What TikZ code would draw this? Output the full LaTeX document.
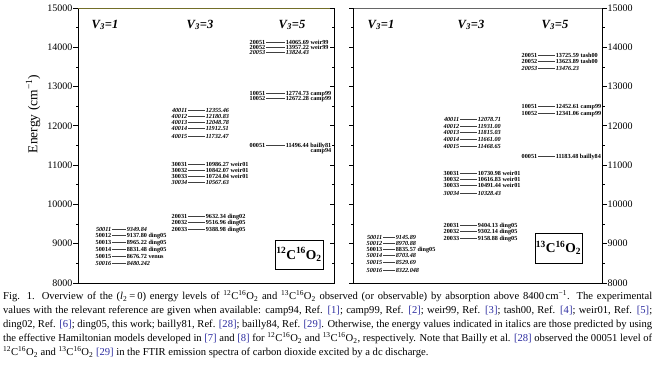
\documentclass[tikz,border=0pt]{standalone}
\usepackage{fontspec}
\setmainfont{Liberation Serif}
\newcommand\isoCO[2]{\textsuperscript{#1}C\textsuperscript{#2}O\textsubscript{2}}
\newcommand\rf[1]{\textcolor{refc}{[#1]}}
\definecolor{refc}{RGB}{45,45,160}
\definecolor{olivec}{RGB}{115,110,40}
\newcommand\enlev[7][lvb]{%
  \node[#1,anchor=east] (#2l) at (#3,#5) {#6};
  \node[#1,anchor=west] (#2v) at (#4,#5) {#7};
  \draw[lvline] (#2l.east) -- (#2v.west);}
\tikzset{
  lvb/.style={font=\fontsize{6.2}{6}\selectfont\bfseries, inner xsep=0.6pt, inner ysep=0.2pt, text height=4.2pt, text depth=0pt},
  lvi/.style={font=\fontsize{6.2}{6}\selectfont\bfseries\itshape, inner xsep=0.6pt, inner ysep=0.2pt, text height=4.2pt, text depth=0pt},
  lvline/.style={line width=0.45pt, black!75},
  axisl/.style={line width=0.8pt, black},
  ticklab/.style={font=\fontsize{10}{12}\selectfont, inner sep=0pt},
  hdr/.style={font=\fontsize{12.5}{14}\selectfont\bfseries\itshape, inner sep=0pt},
  molbox/.style={draw, line width=0.7pt, font=\fontsize{13.5}{15}\selectfont\bfseries, inner sep=0pt},
  capline/.style={anchor=base west, inner sep=0pt, font=\fontsize{10.6}{12}\selectfont}
}
\begin{document}
\begin{tikzpicture}[x=1pt,y=-1pt]
\useasboundingbox (0,0) rectangle (655,365);
% frames
\draw[axisl] (78,283) -- (78,8);
\draw[axisl,olivec] (78,8) -- (334,8);
\draw[axisl] (334,8) -- (334,283) -- (78,283);
\draw[axisl,black!60] (353,8) -- (602,8);
\draw[axisl] (353,8) -- (353,283) -- (602,283) -- (602,8);
% ticks
\foreach \e in {8000,9000,...,15000}{
  \pgfmathsetmacro\yy{283-(\e-8000)*0.0392857}
  \draw[axisl] (78,\yy) -- (73,\yy);
  \node[ticklab,anchor=east] (tl\e) at (72.5,\yy) {\e};
  \draw[axisl] (334,\yy) -- (330,\yy);
  \draw[axisl] (353,\yy) -- (349,\yy);
  \draw[axisl] (602,\yy) -- (607,\yy);
  \node[ticklab,anchor=west] (tr\e) at (607.5,\yy) {\e};
}
\foreach \e in {8500,9500,...,14500}{
  \pgfmathsetmacro\yy{283-(\e-8000)*0.0392857}
  \draw[axisl] (78,\yy) -- (75.5,\yy);
  \draw[axisl] (334,\yy) -- (331.5,\yy);
  \draw[axisl] (353,\yy) -- (350.5,\yy);
  \draw[axisl] (602,\yy) -- (604.5,\yy);
}
\node[rotate=90, font=\fontsize{13.5}{16}\selectfont, inner sep=0pt] (elab) at (33,114) {Energy (cm\textsuperscript{−1})};
% headers
\node[hdr] (h1) at (105,25) {V\textsubscript{3}=1};
\node[hdr] (h2) at (200,25) {V\textsubscript{3}=3};
\node[hdr] (h3) at (292,25) {V\textsubscript{3}=5};
\node[hdr] (h4) at (381,25) {V\textsubscript{3}=1};
\node[hdr] (h5) at (471,25) {V\textsubscript{3}=3};
\node[hdr] (h6) at (555,25) {V\textsubscript{3}=5};
% left V3=1
\enlev[lvi]{La}{112}{126}{229.3}{50011}{9349.84}
\enlev{Lb}{112}{126}{235.7}{50012}{9137.80 ding05}
\enlev{Lc}{112}{126}{242.7}{50013}{8965.22 ding05}
\enlev{Ld}{112}{126}{249.7}{50014}{8831.48 ding05}
\enlev{Le}{112}{126}{256.7}{50015}{8676.72 venus}
\enlev[lvi]{Lf}{112}{126}{263.3}{50016}{8480.242}
% left V3=3
\enlev[lvi]{Lg}{188}{205}{110}{40011}{12355.46}
\enlev[lvi]{Lh}{188}{205}{116}{40012}{12180.83}
\enlev[lvi]{Li}{188}{205}{122}{40013}{12048.78}
\enlev[lvi]{Lj}{188}{205}{128}{40014}{11912.51}
\enlev[lvi]{Lk}{188}{205}{136.7}{40015}{11732.47}
\enlev{Ll}{188}{205}{164}{30031}{10986.27 weir01}
\enlev{Lm}{188}{205}{170}{30032}{10842.07 weir01}
\enlev{Ln}{188}{205}{176.7}{30033}{10724.04 weir01}
\enlev[lvi]{Lo}{188}{205}{182.7}{30034}{10567.63}
\enlev{Lp}{188}{205}{216.7}{20031}{9632.34 ding02}
\enlev{Lq}{188}{205}{222.3}{20032}{9516.96 ding05}
\enlev{Lr}{188}{205}{229.3}{20033}{9388.98 ding05}
% left V3=5
\enlev{Ls}{266}{285}{42}{20051}{14065.69 weir99}
\enlev{Lt}{266}{285}{47}{20052}{13957.22 weir99}
\enlev[lvi]{Lu}{266}{285}{52}{20053}{13824.43}
\enlev{Lv}{266}{285}{93.3}{10051}{12774.73 camp99}
\enlev{Lw}{266}{285}{98.7}{10052}{12672.28 camp99}
\enlev{Lx}{266}{285}{145.7}{00051}{11496.44 bailly81}
\node[lvb,anchor=north east] (Lxc) at (Lxv.south east) {camp94};
% right V3=1
\enlev[lvi]{Ra}{383}{395}{237.3}{50011}{9145.89}
\enlev[lvi]{Rb}{383}{395}{243.3}{50012}{8970.88}
\enlev{Rc}{383}{395}{249.3}{50013}{8835.57 ding05}
\enlev[lvi]{Rd}{383}{395}{255.7}{50014}{8703.48}
\enlev[lvi]{Re}{383}{395}{262}{50015}{8529.69}
\enlev[lvi]{Rf}{383}{395}{270.7}{50016}{8322.048}
% right V3=3
\enlev[lvi]{Rg}{460}{477}{119.3}{40011}{12078.71}
\enlev[lvi]{Rh}{460}{477}{126}{40012}{11931.00}
\enlev[lvi]{Ri}{460}{477}{132.3}{40013}{11815.03}
\enlev[lvi]{Rj}{460}{477}{139}{40014}{11661.00}
\enlev[lvi]{Rk}{460}{477}{146.7}{40015}{11468.65}
\enlev{Rl}{460}{477}{173.3}{30031}{10730.98 weir01}
\enlev{Rm}{460}{477}{179.3}{30032}{10616.83 weir01}
\enlev{Rn}{460}{477}{185}{30033}{10491.44 weir01}
\enlev[lvi]{Ro}{460}{477}{193.3}{30034}{10328.43}
\enlev{Rp}{460}{477}{225}{20031}{9404.13 ding05}
\enlev{Rq}{460}{477}{231}{20032}{9302.14 ding05}
\enlev{Rr}{460}{477}{238.3}{20033}{9158.88 ding05}
% right V3=5
\enlev{Rs}{538}{555}{55}{20051}{13725.59 tash00}
\enlev{Rt}{538}{555}{61.7}{20052}{13623.89 tash00}
\enlev[lvi]{Ru}{538}{555}{68.3}{20053}{13476.23}
\enlev{Rv}{538}{555}{106.7}{10051}{12452.61 camp99}
\enlev{Rw}{538}{555}{113.3}{10052}{12341.06 camp99}
\enlev{Rx}{538}{555}{156.7}{00051}{11183.48 bailly84}
% molecule boxes
\node[molbox, minimum width=48pt, minimum height=29pt] (m1) at (299,254.5) {\isoCO{12}{16}};
\node[molbox, minimum width=47pt, minimum height=30pt] (m2) at (558.5,248) {\isoCO{13}{16}};
% caption
\node[capline] (c1) at (3,299.5) {\makebox[649pt][s]{Fig. 1. Overview of the (\textit{l}\textsubscript{2}\kern2pt=\kern2pt0) energy levels of \isoCO{12}{16} and \isoCO{13}{16} observed (or observable) by absorption above 8400\kern1.5pt cm\textsuperscript{−1}. The experimental}};
\node[capline] (c2) at (3,313.5) {\makebox[649pt][s]{values with the relevant reference are given when available: camp94, Ref. \rf{1}; camp99, Ref. \rf{2}; weir99, Ref. \rf{3}; tash00, Ref. \rf{4}; weir01, Ref. \rf{5};}};
\node[capline] (c3) at (3,327.5) {\makebox[649pt][s]{ding02, Ref. \rf{6}; ding05, this work; bailly81, Ref. \rf{28}; bailly84, Ref. \rf{29}. Otherwise, the energy values indicated in italics are those predicted by using}};
\node[capline] (c4) at (3,341.5) {\makebox[649pt][s]{the effective Hamiltonian models developed in \rf{7} and \rf{8} for \isoCO{12}{16} and \isoCO{13}{16}, respectively. Note that Bailly et al. \rf{28} observed the 00051 level of}};
\node[capline] (c5) at (3,355.5) {\isoCO{12}{16} and \isoCO{13}{16} \rf{29} in the FTIR emission spectra of carbon dioxide excited by a dc discharge.};
\end{tikzpicture}
\end{document}
